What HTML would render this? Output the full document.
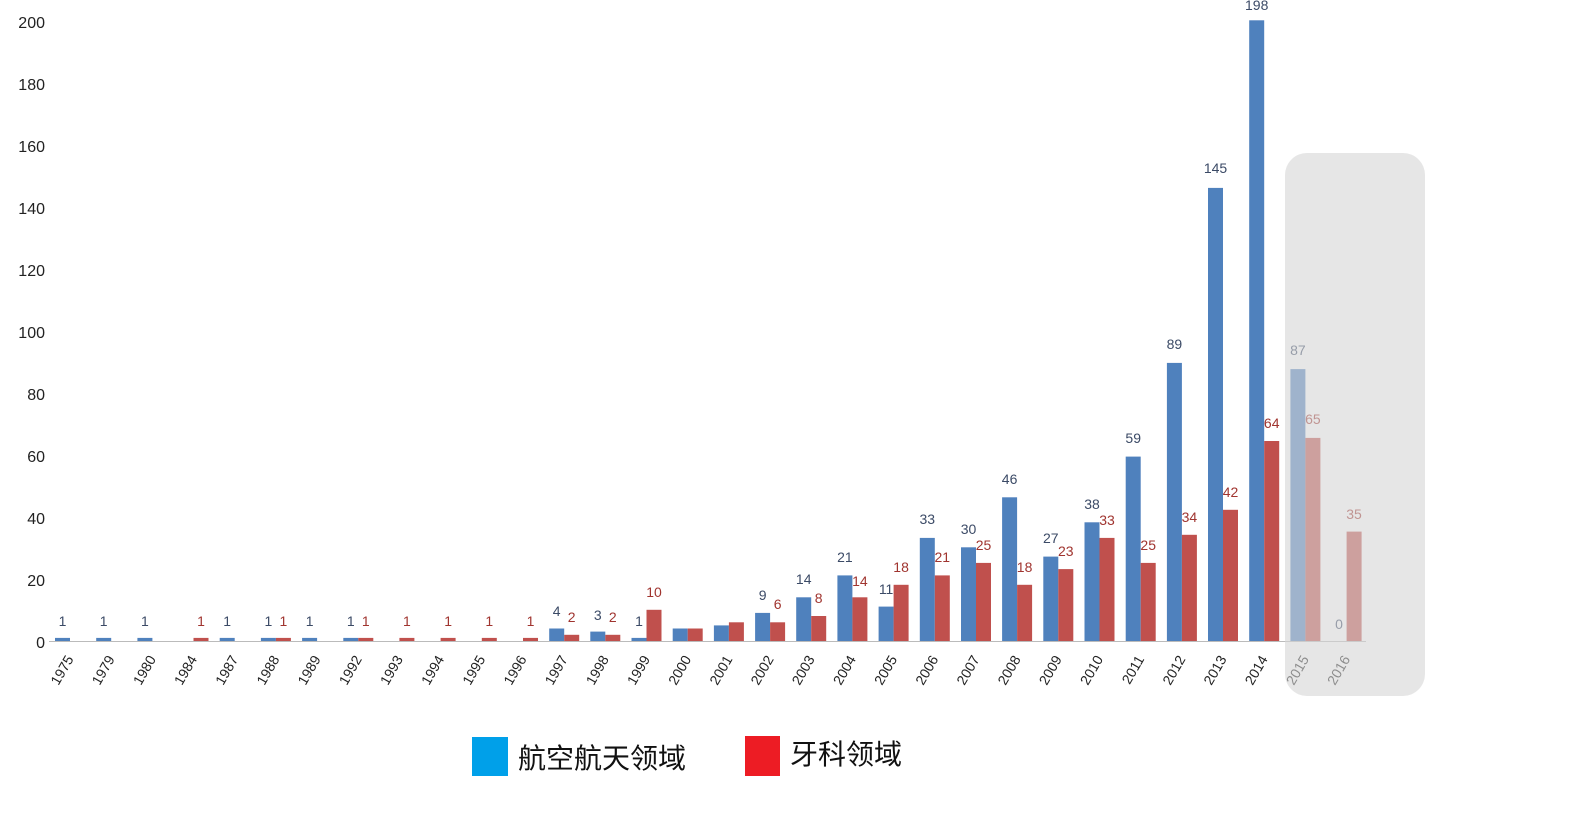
<!DOCTYPE html>
<html><head><meta charset="utf-8"><style>
html,body{margin:0;padding:0;background:#fff;}
svg{display:block;}
text{font-family:"Liberation Sans","Noto Sans CJK SC",sans-serif;}
.yl{font-size:16px;fill:#222;text-anchor:end;}
.xl{font-size:14px;fill:#222;text-anchor:end;}
.bv{font-size:14px;fill:#3b4a66;text-anchor:middle;}
.rv{font-size:14px;fill:#a0342f;text-anchor:middle;}
.b{fill:#4f81bd;}
.r{fill:#c0504d;}
</style></head><body>
<svg width="1584" height="826" viewBox="0 0 1584 826" xmlns="http://www.w3.org/2000/svg">
<g>
<text class="yl" x="45" y="28">200</text>
<text class="yl" x="45" y="90">180</text>
<text class="yl" x="45" y="152">160</text>
<text class="yl" x="45" y="214">140</text>
<text class="yl" x="45" y="276">120</text>
<text class="yl" x="45" y="338">100</text>
<text class="yl" x="45" y="400">80</text>
<text class="yl" x="45" y="462">60</text>
<text class="yl" x="45" y="524">40</text>
<text class="yl" x="45" y="586">20</text>
<text class="yl" x="45" y="648">0</text>
</g>
<line x1="49" y1="641.5" x2="1366" y2="641.5" stroke="#bbb" stroke-width="1"/>
<!-- blue bars -->
<g class="b">
<rect x="55" y="637.9" width="15" height="3.1"/>
<rect x="96.2" y="637.9" width="15" height="3.1"/>
<rect x="137.4" y="637.9" width="15" height="3.1"/>
<rect x="219.7" y="637.9" width="15" height="3.1"/>
<rect x="260.9" y="637.9" width="15" height="3.1"/>
<rect x="302.1" y="637.9" width="15" height="3.1"/>
<rect x="343.3" y="637.9" width="15" height="3.1"/>
<rect x="549.2" y="628.5" width="15" height="12.5"/>
<rect x="590.3" y="631.6" width="15" height="9.4"/>
<rect x="631.5" y="637.9" width="15" height="3.1"/>
<rect x="672.7" y="628.5" width="15" height="12.5"/>
<rect x="713.9" y="625.4" width="15" height="15.6"/>
<rect x="755.1" y="612.9" width="15" height="28.1"/>
<rect x="796.2" y="597.3" width="15" height="43.7"/>
<rect x="837.4" y="575.4" width="15" height="65.6"/>
<rect x="878.6" y="606.6" width="15" height="34.4"/>
<rect x="919.8" y="537.9" width="15" height="103.1"/>
<rect x="961" y="547.3" width="15" height="93.7"/>
<rect x="1002.1" y="497.3" width="15" height="143.7"/>
<rect x="1043.3" y="556.6" width="15" height="84.4"/>
<rect x="1084.5" y="522.3" width="15" height="118.7"/>
<rect x="1125.7" y="456.6" width="15" height="184.4"/>
<rect x="1166.9" y="362.9" width="15" height="278.1"/>
<rect x="1208" y="187.9" width="15" height="453.1"/>
<rect x="1249.2" y="20.3" width="15" height="620.7"/>
<rect x="1290.4" y="369.1" width="15" height="271.9"/>
</g>
<!-- red bars -->
<g class="r">
<rect x="193.5" y="637.9" width="15" height="3.1"/>
<rect x="275.9" y="637.9" width="15" height="3.1"/>
<rect x="358.3" y="637.9" width="15" height="3.1"/>
<rect x="399.4" y="637.9" width="15" height="3.1"/>
<rect x="440.6" y="637.9" width="15" height="3.1"/>
<rect x="481.8" y="637.9" width="15" height="3.1"/>
<rect x="523" y="637.9" width="15" height="3.1"/>
<rect x="564.2" y="634.8" width="15" height="6.2"/>
<rect x="605.3" y="634.8" width="15" height="6.2"/>
<rect x="646.5" y="609.8" width="15" height="31.2"/>
<rect x="687.7" y="628.5" width="15" height="12.5"/>
<rect x="728.9" y="622.3" width="15" height="18.7"/>
<rect x="770.1" y="622.3" width="15" height="18.7"/>
<rect x="811.2" y="616" width="15" height="25"/>
<rect x="852.4" y="597.3" width="15" height="43.7"/>
<rect x="893.6" y="584.8" width="15" height="56.2"/>
<rect x="934.8" y="575.4" width="15" height="65.6"/>
<rect x="976" y="562.9" width="15" height="78.1"/>
<rect x="1017.1" y="584.8" width="15" height="56.2"/>
<rect x="1058.3" y="569.1" width="15" height="71.9"/>
<rect x="1099.5" y="537.9" width="15" height="103.1"/>
<rect x="1140.7" y="562.9" width="15" height="78.1"/>
<rect x="1181.9" y="534.8" width="15" height="106.2"/>
<rect x="1223" y="509.8" width="15" height="131.2"/>
<rect x="1264.2" y="441" width="15" height="200"/>
<rect x="1305.4" y="437.9" width="15" height="203.1"/>
<rect x="1346.6" y="531.6" width="15" height="109.4"/>
</g>
<!-- blue labels -->
<g>
<text class="bv" x="62.5" y="626">1</text>
<text class="bv" x="103.7" y="626">1</text>
<text class="bv" x="144.9" y="626">1</text>
<text class="bv" x="227.2" y="626">1</text>
<text class="bv" x="268.4" y="626">1</text>
<text class="bv" x="309.6" y="626">1</text>
<text class="bv" x="350.8" y="626">1</text>
<text class="bv" x="556.7" y="616">4</text>
<text class="bv" x="597.8" y="620">3</text>
<text class="bv" x="639" y="626">1</text>
<text class="bv" x="762.6" y="600">9</text>
<text class="bv" x="803.7" y="584">14</text>
<text class="bv" x="844.9" y="562">21</text>
<text class="bv" x="886.1" y="594">11</text>
<text class="bv" x="927.3" y="524">33</text>
<text class="bv" x="968.5" y="534">30</text>
<text class="bv" x="1009.6" y="484">46</text>
<text class="bv" x="1050.8" y="543">27</text>
<text class="bv" x="1092" y="509">38</text>
<text class="bv" x="1133.2" y="443">59</text>
<text class="bv" x="1174.4" y="349">89</text>
<text class="bv" x="1215.5" y="173">145</text>
<text class="bv" x="1256.7" y="10">198</text>
<text class="bv" x="1297.9" y="355">87</text>
<text class="bv" x="1339" y="629">0</text>
</g>
<!-- red labels -->
<g>
<text class="rv" x="201" y="626">1</text>
<text class="rv" x="283.4" y="626">1</text>
<text class="rv" x="365.8" y="626">1</text>
<text class="rv" x="406.9" y="626">1</text>
<text class="rv" x="448.1" y="626">1</text>
<text class="rv" x="489.3" y="626">1</text>
<text class="rv" x="530.5" y="626">1</text>
<text class="rv" x="571.7" y="622">2</text>
<text class="rv" x="612.8" y="622">2</text>
<text class="rv" x="654" y="597">10</text>
<text class="rv" x="777.6" y="609">6</text>
<text class="rv" x="818.7" y="603">8</text>
<text class="rv" x="859.9" y="586">14</text>
<text class="rv" x="901.1" y="572">18</text>
<text class="rv" x="942.3" y="562">21</text>
<text class="rv" x="983.5" y="550">25</text>
<text class="rv" x="1024.6" y="572">18</text>
<text class="rv" x="1065.8" y="556">23</text>
<text class="rv" x="1107" y="525">33</text>
<text class="rv" x="1148.2" y="550">25</text>
<text class="rv" x="1189.4" y="522">34</text>
<text class="rv" x="1230.5" y="497">42</text>
<text class="rv" x="1271.7" y="428">64</text>
<text class="rv" x="1312.9" y="424">65</text>
<text class="rv" x="1354" y="519">35</text>
</g>
<!-- year labels -->
<g>
<text class="xl" transform="translate(74,659) rotate(-60)">1975</text>
<text class="xl" transform="translate(115.2,659) rotate(-60)">1979</text>
<text class="xl" transform="translate(156.4,659) rotate(-60)">1980</text>
<text class="xl" transform="translate(197.5,659) rotate(-60)">1984</text>
<text class="xl" transform="translate(238.7,659) rotate(-60)">1987</text>
<text class="xl" transform="translate(279.9,659) rotate(-60)">1988</text>
<text class="xl" transform="translate(321.1,659) rotate(-60)">1989</text>
<text class="xl" transform="translate(362.3,659) rotate(-60)">1992</text>
<text class="xl" transform="translate(403.4,659) rotate(-60)">1993</text>
<text class="xl" transform="translate(444.6,659) rotate(-60)">1994</text>
<text class="xl" transform="translate(485.8,659) rotate(-60)">1995</text>
<text class="xl" transform="translate(527,659) rotate(-60)">1996</text>
<text class="xl" transform="translate(568.2,659) rotate(-60)">1997</text>
<text class="xl" transform="translate(609.3,659) rotate(-60)">1998</text>
<text class="xl" transform="translate(650.5,659) rotate(-60)">1999</text>
<text class="xl" transform="translate(691.7,659) rotate(-60)">2000</text>
<text class="xl" transform="translate(732.9,659) rotate(-60)">2001</text>
<text class="xl" transform="translate(774.1,659) rotate(-60)">2002</text>
<text class="xl" transform="translate(815.2,659) rotate(-60)">2003</text>
<text class="xl" transform="translate(856.4,659) rotate(-60)">2004</text>
<text class="xl" transform="translate(897.6,659) rotate(-60)">2005</text>
<text class="xl" transform="translate(938.8,659) rotate(-60)">2006</text>
<text class="xl" transform="translate(980,659) rotate(-60)">2007</text>
<text class="xl" transform="translate(1021.1,659) rotate(-60)">2008</text>
<text class="xl" transform="translate(1062.3,659) rotate(-60)">2009</text>
<text class="xl" transform="translate(1103.5,659) rotate(-60)">2010</text>
<text class="xl" transform="translate(1144.7,659) rotate(-60)">2011</text>
<text class="xl" transform="translate(1185.9,659) rotate(-60)">2012</text>
<text class="xl" transform="translate(1227,659) rotate(-60)">2013</text>
<text class="xl" transform="translate(1268.2,659) rotate(-60)">2014</text>
<text class="xl" transform="translate(1309.4,659) rotate(-60)">2015</text>
<text class="xl" transform="translate(1350.6,659) rotate(-60)">2016</text>
</g>
<!-- gray overlay -->
<rect x="1285" y="153" width="140" height="543" rx="22" fill="#d6d6d6" opacity="0.6"/>
<!-- legend -->
<rect x="472" y="737" width="36" height="39" fill="#00a0e9"/>
<text x="518" y="768" font-size="28" fill="#111">航空航天领域</text>
<rect x="745" y="736" width="35" height="40" fill="#ed1c24"/>
<text x="790" y="764" font-size="28" fill="#111">牙科领域</text>
</svg>
</body></html>
